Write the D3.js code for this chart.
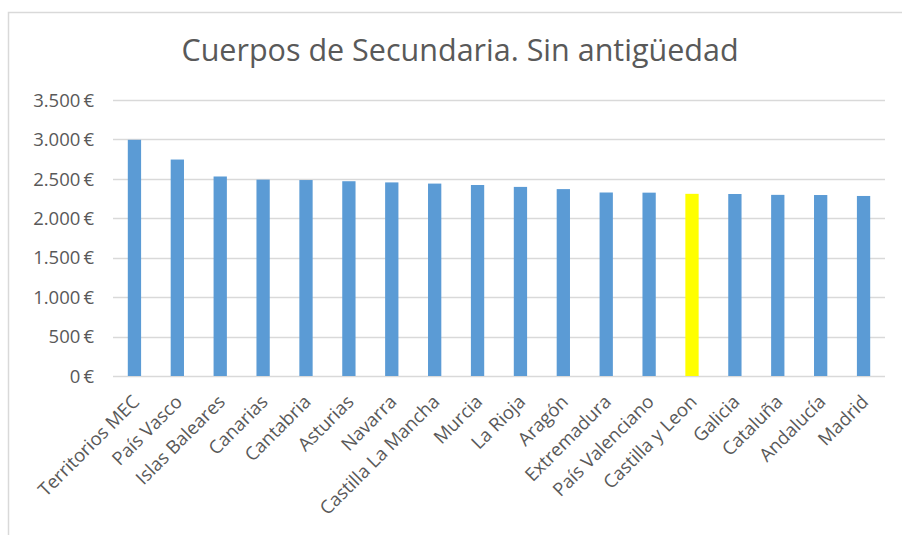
<!DOCTYPE html>
<html lang="es">
<head>
<meta charset="utf-8">
<script src="https://d3js.org/d3.v7.min.js"></script>
<style>
  body { margin: 0; background: #fff; }
  text { font-family: "Open Sans", "Noto Sans", sans-serif; fill: #595959; }
</style>
</head>
<body>
<script>
var regions = ["Territorios MEC", "País Vasco", "Islas Baleares", "Canarias", "Cantabria",
  "Asturias", "Navarra", "Castilla La Mancha", "Murcia", "La Rioja", "Aragón",
  "Extremadura", "País Valenciano", "Castilla y Leon", "Galicia", "Cataluña",
  "Andalucía", "Madrid"];
var salaries = [2995, 2745, 2530, 2490, 2485, 2470, 2455, 2440, 2422, 2398, 2370,
  2327, 2325, 2310, 2308, 2297, 2295, 2283];
var yTicks = [0, 500, 1000, 1500, 2000, 2500, 3000, 3500];
var highlight = "Castilla y Leon";

var width = 902, height = 535;
var margin = {top: 100, right: 17, bottom: 159, left: 113};

var svg = d3.select("body").append("svg")
    .attr("width", width)
    .attr("height", height);

// chart frame (only top and left visible, the rest is cut off)
svg.append("path")
    .attr("d", "M8.5,535 V12.5 H902")
    .attr("fill", "none")
    .attr("stroke", "#d9d9d9")
    .attr("stroke-width", 1.5);

var x = d3.scaleBand()
    .domain(regions)
    .range([margin.left, width - margin.right])
    .paddingInner(0.69)
    .paddingOuter(0.345);

var y = d3.scaleLinear()
    .domain([0, 3500])
    .range([height - margin.bottom, margin.top]);

var es = d3.formatLocale({decimal: ",", thousands: ".", grouping: [3], currency: ["", "\u2009€"]});
var fmt = es.format("$,.0f");

// gridlines
svg.append("g")
    .selectAll("line")
    .data(yTicks)
    .enter()
    .append("line")
    .attr("x1", margin.left)
    .attr("x2", width - margin.right)
    .attr("y1", function(d) { return Math.round(y(d)) + 0.5; })
    .attr("y2", function(d) { return Math.round(y(d)) + 0.5; })
    .attr("stroke", "#d9d9d9")
    .attr("stroke-width", 1.3);

// y labels
svg.append("g")
    .selectAll("text")
    .data(yTicks)
    .enter()
    .append("text")
    .attr("x", 94)
    .attr("y", function(d) { return y(d); })
    .attr("dy", "0.36em")
    .attr("text-anchor", "end")
    .attr("font-size", 18.5)
    .text(function(d) { return fmt(d); });

// x labels
svg.append("g")
    .selectAll("text")
    .data(regions)
    .enter()
    .append("text")
    .attr("transform", function(d) {
        return "translate(" + (x(d) + x.bandwidth() / 2 + 6) + "," + (y(0) + 27) + ") rotate(-45)";
    })
    .attr("text-anchor", "end")
    .attr("font-size", 18.5)
    .text(function(d) { return d; });

// bars
svg.append("g")
    .selectAll("rect")
    .data(regions)
    .enter()
    .append("rect")
    .attr("x", function(d) { return x(d); })
    .attr("width", x.bandwidth())
    .attr("y", function(d, i) { return y(salaries[i]); })
    .attr("height", function(d, i) { return y(0) - y(salaries[i]); })
    .attr("fill", function(d) { return d === highlight ? "#ffff00" : "#5b9bd5"; });

// title
svg.append("text")
    .attr("x", 460)
    .attr("y", 61)
    .attr("text-anchor", "middle")
    .attr("font-size", 30.5)
    .text("Cuerpos de Secundaria. Sin antigüedad");
</script>
</body>
</html>
